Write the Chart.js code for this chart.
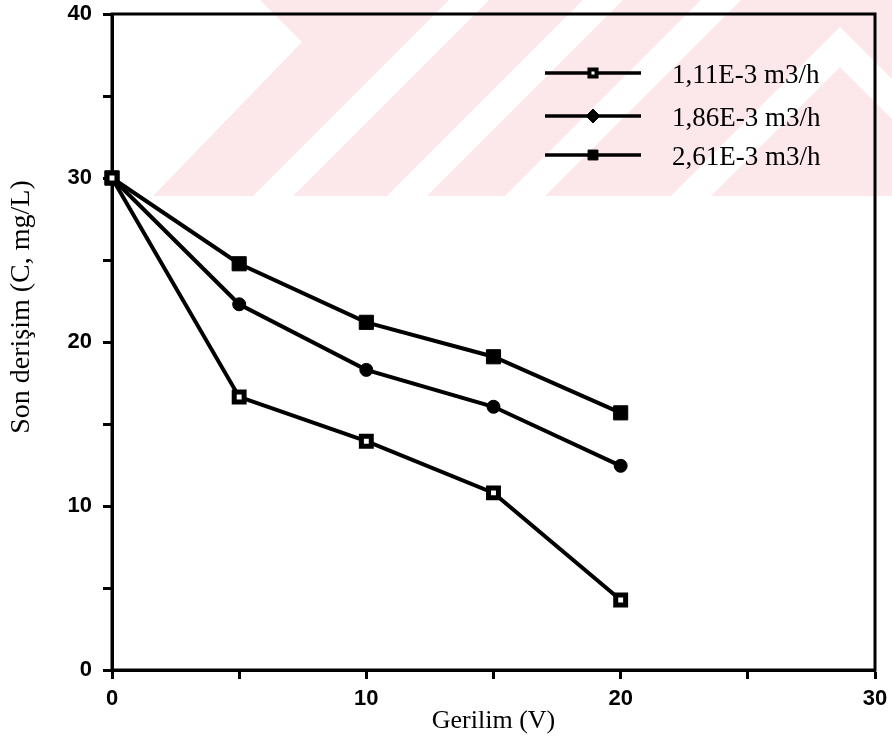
<!DOCTYPE html>
<html>
<head>
  <title>Son derişim - Gerilim</title>
  <script src="https://cdn.jsdelivr.net/npm/chart.js"></script>
  <style>
    html, body { margin: 0; padding: 0; background: #fff; }
    .wrap { width: 892px; height: 742px; }
  </style>
</head>
<body>
  <div class="wrap"><canvas id="chart" width="892" height="742"></canvas></div>

  <script>
    // veriler
    const voltage = [0, 5, 10, 15, 20];
    const flow111 = [30, 16.65, 13.95, 10.8, 4.27];
    const flow186 = [30, 22.3, 18.3, 16.05, 12.45];
    const flow261 = [30, 24.77, 21.2, 19.1, 15.68];
    const seriesLabels = ['1,11E-3 m3/h', '1,86E-3 m3/h', '2,61E-3 m3/h'];
    const xTicks = [0, 10, 20, 30];
    const yTicks = [0, 10, 20, 30, 40];
    const yTitle = 'Son derişim (C, mg/L)';

    const toPoints = arr => arr.map((v, i) => ({ x: voltage[i], y: v }));

    // arka plandaki soluk pembe filigran
    const watermark = {
      id: 'watermark',
      beforeDraw(chart) {
        const c = chart.ctx;
        c.save();
        c.fillStyle = '#fce7eb';
        c.beginPath();
        c.moveTo(260, 0); c.lineTo(892, 0); c.lineTo(892, 196);
        c.lineTo(153, 196); c.lineTo(302, 42); c.closePath();
        c.fill();
        c.fillStyle = '#ffffff';
        [253, 387, 505].forEach(b => {
          c.beginPath();
          c.moveTo(b, 196); c.lineTo(b + 40, 196);
          c.lineTo(b + 40 + 196, 0); c.lineTo(b + 196, 0);
          c.closePath(); c.fill();
        });
        c.beginPath();
        c.moveTo(671, 196); c.lineTo(840, 27); c.lineTo(892, 79);
        c.lineTo(892, 119); c.lineTo(840, 67); c.lineTo(711, 196);
        c.closePath(); c.fill();
        c.restore();
      }
    };

    // çerçeve (üst ve sağ kenar) + dikey eksen başlığı
    const frame = {
      id: 'frame',
      beforeDatasetsDraw(chart) {
        const a = chart.chartArea, c = chart.ctx;
        c.save();
        c.strokeStyle = '#000';
        c.lineWidth = 3;
        c.strokeRect(a.left, a.top, a.right - a.left, a.bottom - a.top);
        c.translate(22, 307);
        c.rotate(-Math.PI / 2);
        c.fillStyle = '#000';
        c.font = '28px "Liberation Serif", "Times New Roman", serif';
        c.textAlign = 'center';
        c.textBaseline = 'middle';
        c.fillText(yTitle, 0, 0);
        c.restore();
      }
    };

    // çizgi + işaretli açıklama
    const lineLegend = {
      id: 'lineLegend',
      afterDatasetsDraw(chart) {
        const a = chart.chartArea, c = chart.ctx;
        const styles = [
          { pointStyle: 'rect', radius: 5, borderWidth: 4, fill: '#fff' },
          { pointStyle: 'rectRot', radius: 7, borderWidth: 1, fill: '#000' },
          { pointStyle: 'rect', radius: 7, borderWidth: 1, fill: '#000' }
        ];
        const rows = [59, 102, 141];
        c.save();
        chart.data.datasets.forEach((ds, i) => {
          const y = a.top + rows[i];
          const x0 = a.left + 433, x1 = a.left + 529;
          c.strokeStyle = '#000';
          c.lineWidth = 3.5;
          c.beginPath(); c.moveTo(x0, y); c.lineTo(x1, y); c.stroke();
          c.fillStyle = styles[i].fill;
          c.lineWidth = styles[i].borderWidth;
          Chart.helpers.drawPoint(c, { pointStyle: styles[i].pointStyle, radius: styles[i].radius, borderWidth: styles[i].borderWidth, rotation: 0 }, (x0 + x1) / 2, y);
          c.fillStyle = '#000';
          c.font = '27px "Liberation Serif", "Times New Roman", serif';
          c.textBaseline = 'middle';
          c.textAlign = 'left';
          c.fillText(ds.label, a.left + 560, y + 3);
        });
        c.restore();
      }
    };

    const tickFont = { family: '"Liberation Sans", Arial, sans-serif', size: 22, weight: 'bold' };
    const titleFont = { family: '"Liberation Serif", "Times New Roman", serif', size: 26 };

    const ctx = document.getElementById('chart').getContext('2d');
    const chart = new Chart(ctx, {
      type: 'line',
      data: {
        datasets: [
          {
            label: seriesLabels[0],
            data: toPoints(flow111),
            borderColor: '#000',
            borderWidth: 4,
            pointStyle: 'rect',
            pointRadius: 7,
            pointBorderWidth: 5,
            pointBackgroundColor: '#fff',
            pointBorderColor: '#000',
            clip: false
          },
          {
            label: seriesLabels[1],
            data: toPoints(flow186),
            borderColor: '#000',
            borderWidth: 4,
            pointStyle: 'circle',
            pointRadius: 6.5,
            pointBorderWidth: 1,
            pointBackgroundColor: '#000',
            pointBorderColor: '#000',
            clip: false
          },
          {
            label: seriesLabels[2],
            data: toPoints(flow261),
            borderColor: '#000',
            borderWidth: 4,
            pointStyle: 'rect',
            pointRadius: 10,
            pointBorderWidth: 1,
            pointBackgroundColor: '#000',
            pointBorderColor: '#000',
            clip: false
          }
        ]
      },
      options: {
        responsive: false,
        animation: false,
        layout: { padding: { top: 14, right: 17, left: 0, bottom: 0 } },
        plugins: {
          legend: { display: false },
          tooltip: { enabled: false }
        },
        scales: {
          x: {
            type: 'linear',
            min: 0,
            max: 30,
            afterFit: s => { s.height = 72; s.paddingLeft = 0; s.paddingRight = 0; },
            border: { display: true, color: '#000', width: 3 },
            grid: { drawOnChartArea: false, drawTicks: true, tickLength: 9, tickWidth: 3, tickColor: '#000' },
            ticks: {
              stepSize: 5,
              color: '#000',
              font: tickFont,
              padding: 7,
              maxRotation: 0,
              callback: v => xTicks.includes(v) ? String(v) : ''
            },
            title: { display: true, text: 'Gerilim (V)', color: '#000', font: titleFont, padding: { top: 0, bottom: 5 } }
          },
          y: {
            min: 0,
            max: 40,
            afterFit: s => { s.width = 112; s.paddingTop = 0; s.paddingBottom = 0; },
            border: { display: true, color: '#000', width: 3 },
            grid: { drawOnChartArea: false, drawTicks: true, tickLength: 9, tickWidth: 3, tickColor: '#000' },
            ticks: {
              stepSize: 5,
              color: '#000',
              font: tickFont,
              padding: 11,
              callback: v => yTicks.includes(v) ? String(v) : ''
            },
            title: { display: false }
          }
        }
      },
      plugins: [watermark, frame, lineLegend]
    });
  </script>
</body>
</html>
